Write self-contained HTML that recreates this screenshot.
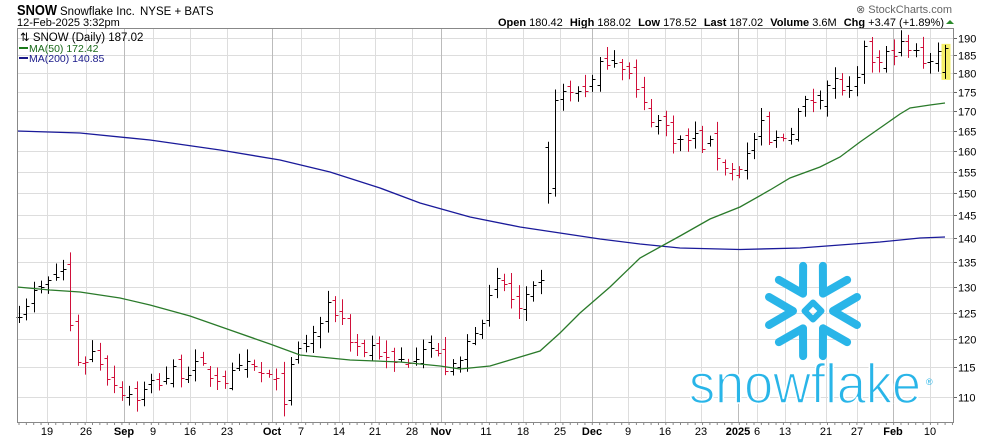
<!DOCTYPE html>
<html><head><meta charset="utf-8"><style>
body{margin:0;background:#fff;width:990px;height:438px;overflow:hidden}
svg{display:block;font-family:"Liberation Sans",Arial,sans-serif}
</style></head><body>
<svg id="s" width="990" height="438" xmlns="http://www.w3.org/2000/svg">
<text x="17" y="15" font-size="15" font-weight="bold" textLength="40" lengthAdjust="spacingAndGlyphs">SNOW</text>
<text x="60" y="15" font-size="11.5">Snowflake Inc. <tspan dx="2">NYSE + BATS</tspan></text>
<text x="17" y="26" font-size="11">12-Feb-2025 3:32pm</text>
<text x="952" y="13" font-size="11" fill="#666" text-anchor="end">⊗ StockCharts.com</text>
<text x="944" y="26" font-size="11" text-anchor="end"><tspan font-weight="bold">Open</tspan> 180.42 <tspan font-weight="bold" dx="4">High</tspan> 188.02 <tspan font-weight="bold" dx="4">Low</tspan> 178.52 <tspan font-weight="bold" dx="4">Last</tspan> 187.02 <tspan font-weight="bold" dx="4">Volume</tspan> 3.6M <tspan font-weight="bold" dx="4">Chg</tspan> +3.47 (+1.89%)</text>
<polygon points="946,24 954,24 950,20" fill="#2a8a2a"/>
<g id="grid"></g>
<g id="logo" fill="none" stroke="#29B5E8" stroke-width="8" stroke-linecap="round" stroke-linejoin="round"></g>
<text x="689" y="403" font-size="56" fill="#29B5E8" stroke="#fff" stroke-width="1.6" paint-order="normal" textLength="232" lengthAdjust="spacingAndGlyphs">snowflake</text>
<text x="926" y="385" font-size="9" fill="#29B5E8">®</text>
<g id="bars"></g>
<polyline fill="none" stroke="#1a1a9a" stroke-width="1.3" points="17,131 80,133 150,140 220,150 280,160 330,172 380,188 420,203 470,217 520,227 560,233 600,239 640,244 680,248 740,249.5 800,248 840,245 880,242 920,238 945,237"/>
<polyline fill="none" stroke="#2a7a2a" stroke-width="1.3" points="17,287 50,290 80,292 120,298 150,305 190,316 230,330 270,344 300,355 350,360 400,362 440,366 460,369 490,366 510,360 540,351 560,333 580,313 610,287 640,258 680,236 710,219 740,207 770,190 790,178 820,167 840,157 860,142 880,128 900,114 910,108 930,105 945,103"/>
<rect x="17.5" y="28.5" width="936" height="394" fill="none" stroke="#888"/>
<text x="20" y="41" font-size="11.5" fill="#000">⇅ SNOW (Daily) 187.02</text>
<line x1="19" y1="48" x2="28" y2="48" stroke="#1a7a1a" stroke-width="2"/>
<text x="29" y="52" font-size="10.5" fill="#1a6a1a">MA(50) 172.42</text>
<line x1="19" y1="58" x2="28" y2="58" stroke="#1a1a8a" stroke-width="2"/>
<text x="29" y="62" font-size="10.5" fill="#1a1a8a">MA(200) 140.85</text>
</svg>
<script>
var NS="http://www.w3.org/2000/svg";
function el(p,t,a,txt){var e=document.createElementNS(NS,t);for(var k in a)e.setAttribute(k,a[k]);if(txt)e.textContent=txt;p.appendChild(e);return e;}
function Y(p){return 38+656*(Math.log(190)-Math.log(p));}
var g=document.getElementById('grid');
for(var p=110;p<=190;p+=5){var y=Math.round(Y(p))+.5;el(g,'line',{x1:17,x2:953,y1:y,y2:y,stroke:'#ddd'});el(g,'line',{x1:953,x2:957,y1:y,y2:y,stroke:'#666'});el(g,'text',{x:958,y:y+4,'font-size':11},String(p));}
var xl=[[47,'19'],[86,'26'],[124,'Sep',1],[153,'9'],[190,'16'],[227,'23'],[272,'Oct',1],[301,'7'],[339,'14'],[375,'21'],[412,'28'],[441,'Nov',1],[486,'11'],[523,'18'],[560,'25'],[592,'Dec',1],[628,'9'],[665,'16'],[701,'23'],[738,'2025',1],[757,'6'],[785,'13'],[826,'21'],[857,'27'],[893,'Feb',1],[930,'10']];
xl.forEach(function(a){var x=a[0]+.5;el(g,'line',{x1:x,x2:x,y1:28,y2:422,stroke:a[2]?'#bbb':'#ddd'});el(g,'text',{x:a[0],y:435,'font-size':11,'text-anchor':'middle','font-weight':a[2]?'bold':'normal'},a[1]);});
for(var x=19;x<953;x+=7.35){el(g,'line',{x1:x,x2:x,y1:422,y2:425,stroke:'#888'});}
var L=document.getElementById('logo');var cx=813,cy=311;
for(var i=0;i<6;i++){el(L,'polyline',{points:'44,-14 20,0 44,14',transform:'translate('+cx+','+cy+') rotate('+(i*60)+')'});}
el(L,'rect',{x:-6,y:-6,width:12,height:12,transform:'translate('+cx+','+cy+') rotate(45)','stroke-width':6});
var K=[[19,126],[30,128],[45,130],[60,133],[66,134],[72,118],[80,116],[95,118],[110,113],[125,111],[140,110],[150,112],[170,114],[190,115],[210,114],[230,113],[250,115],[270,113],[285,110],[295,117],[310,120],[325,125],[338,126],[348,121],[360,118],[375,119],[390,115],[400,116],[415,118],[425,120],[440,116],[455,114],[465,118],[475,123],[490,127],[500,132],[510,128],[520,125],[530,128],[541,130],[547,158],[555,175],[565,174],[580,176],[595,178],[605,185],[620,184],[630,179],[640,172],[655,168],[670,165],[680,162],[695,163],[715,160],[730,155],[745,158],[760,166],[770,161],[785,164],[800,170],[815,174],[830,178],[845,176],[852,172],[865,186],[880,182],[895,188],[910,186],[925,184],[945,187.02]];
function interp(x){for(var i=1;i<K.length;i++){if(x<=K[i][0]){var a=K[i-1],b=K[i];return a[1]+(b[1]-a[1])*(x-a[0])/(b[0]-a[0]);}}return K[K.length-1][1];}
var seed=7;function rnd(){seed=(seed*16807)%2147483647;return seed/2147483647;}
var B=document.getElementById('bars');var prev=null;
for(var i=0;i<=126;i++){var x=945-(126-i)*7.35;var c=interp(x)*(1+(rnd()-.5)*0.03);var o=prev==null?c:prev*(1+(rnd()-.5)*0.02);
if(x>545&&x<550){o=161;c=150;}
var h=Math.max(o,c)*(1+rnd()*0.015+0.004),l=Math.min(o,c)*(1-rnd()*0.015-0.004);
if(i==126){o=180.42;h=188.02;l=178.52;c=187.02;}
var col=(prev!=null&&c<prev)?'#d0103a':'#000';var xx=Math.round(x)+.5;
if(i==126)el(B,'rect',{x:xx-4,y:Y(h)-1,width:9,height:Y(l)-Y(h)+2,fill:'#f5f06a'});
el(B,'line',{x1:xx,x2:xx,y1:Y(h),y2:Y(l),stroke:col});
el(B,'line',{x1:xx-3,x2:xx,y1:Math.round(Y(o))+.5,y2:Math.round(Y(o))+.5,stroke:col});
el(B,'line',{x1:xx,x2:xx+3,y1:Math.round(Y(c))+.5,y2:Math.round(Y(c))+.5,stroke:col});
prev=c;}
</script>
</body></html>
